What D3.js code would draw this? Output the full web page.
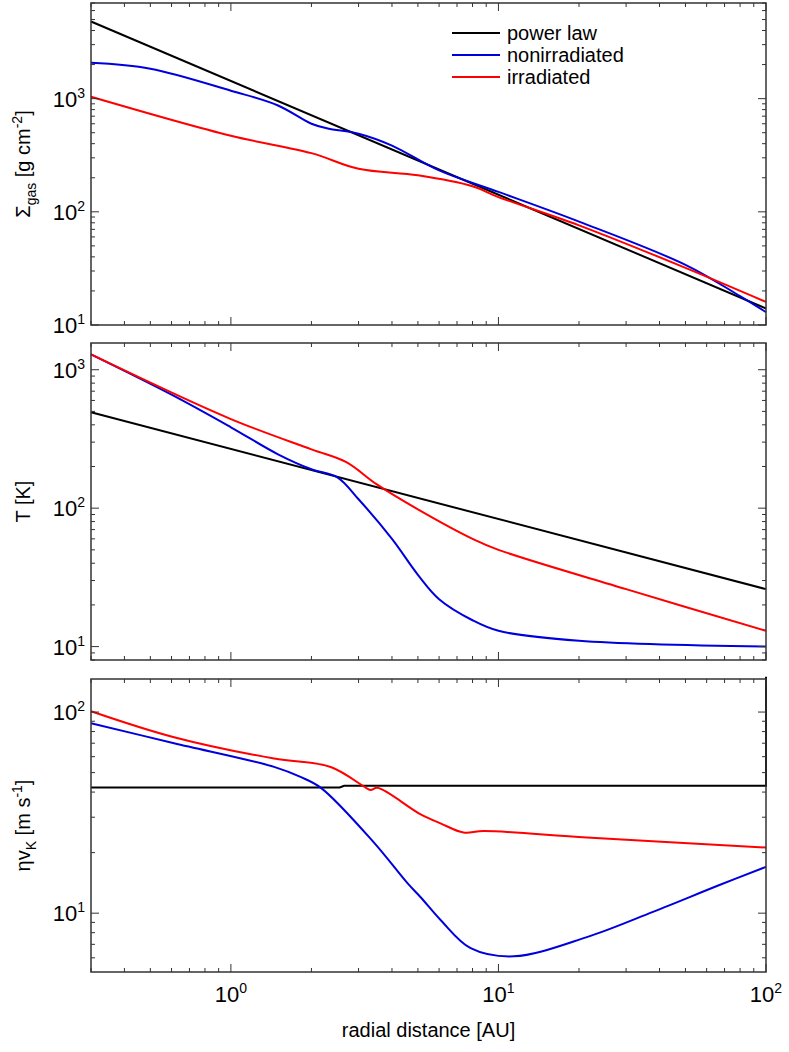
<!DOCTYPE html>
<html>
  <head>
    <meta charset="utf-8">
    <title>disk profiles</title>
    <script src="https://d3js.org/d3.v7.min.js"></script>
    <style>
      body { margin: 0; background: #fff; }
      text { font-family: "Liberation Sans", Arial, sans-serif; fill: #000; }
    </style>
  </head>
  <body>
    <svg id="chart" width="789" height="1052"></svg>
    <script>
      // data: [radius AU, value]
      seriesNames = ["power law", "nonirradiated", "irradiated"];
      seriesColours = ["#000000", "#0000dd", "#ff0000"];
      sigmaPower = [[0.3, 4800], [100, 14]];
      sigmaNonirr = [[0.3, 2075], [0.5, 1840], [1, 1176], [1.5, 870], [2, 600], [2.3, 545], [3, 490], [4, 385], [6, 232], [10, 150], [20, 82], [50, 34], [80, 18], [100, 13]];
      sigmaIrr = [[0.3, 1040], [1, 470], [2, 330], [3, 240], [5, 210], [8, 168], [10, 135], [20, 76], [50, 32], [100, 16]];
      tempPower = [[0.3, 493], [100, 26]];
      tempNonirr = [[0.3, 1290], [0.6, 660], [1, 384], [1.5, 245], [2, 191], [2.5, 167], [3, 116], [4, 60], [5, 33], [6, 22], [8, 15.5], [10, 13], [20, 11], [100, 10]];
      tempIrr = [[0.3, 1290], [1, 440], [2, 266], [2.7, 215], [3.5, 149], [5, 98], [8, 60], [10, 50], [30, 26], [100, 13]];
      etaPower = [[0.3, 42.2], [2.55, 42.2], [2.65, 43], [100, 43], [100, 150]];
      etaNonirr = [[0.3, 88], [0.613, 70], [1.45, 53.4], [1.82, 47.6], [2.17, 42], [3.42, 22.5], [4.57, 14.1], [5.12, 12], [6.1, 9.2], [7.87, 6.7], [11.4, 6.1], [21.4, 7.6], [37.8, 10.15], [67, 13.8], [100, 17]];
      etaIrr = [[0.3, 101], [0.613, 75], [1.45, 58.7], [2.36, 53.3], [3.2, 42], [3.33, 41], [3.53, 42], [5.12, 31], [6.1, 27.9], [7.4, 25.2], [8.8, 25.6], [21.4, 23.8], [100, 21.2]];
      xDomain = [0.3, 100];
      xTicks = [1, 10, 100];

      panels = [
        { top: 3, bottom: 325, domain: [10, 7000], ticks: [10, 100, 1000], label: "sigma", data: [sigmaPower, sigmaNonirr, sigmaIrr] },
        { top: 343, bottom: 660, domain: [8, 1560], ticks: [10, 100, 1000], label: "T", data: [tempPower, tempNonirr, tempIrr] },
        { top: 679, bottom: 972, domain: [5.1, 146], ticks: [10, 100], label: "eta", data: [etaPower, etaNonirr, etaIrr] }
      ];
      margin = { left: 91, right: 766 };

      svg = d3.select("#chart");
      x = d3.scaleLog().domain(xDomain).range([margin.left, margin.right]);

      function minorTicks(domain) {
        out = [];
        for (e = -1; e <= 4; e++) {
          for (m = 1; m < 10; m++) {
            v = m * Math.pow(10, e);
            if (v >= domain[0] && v <= domain[1]) out.push({ v: v, major: m == 1 });
          }
        }
        return out;
      }
      function powerLabel(sel, v) {
        e = Math.round(Math.log10(v));
        sel.append("tspan").text("10");
        sel.append("tspan").attr("dy", -9).attr("font-size", 14).text(e);
      }

      panels.forEach(function(p) {
        y = d3.scaleLog().domain(p.domain).range([p.bottom, p.top]);
        g = svg.append("g");
        // curves
        smooth = d3.line().x(function(d) { return x(d[0]); }).y(function(d) { return y(d[1]); })
          .curve(d3.curveCatmullRom.alpha(0.5));
        straight = d3.line().x(function(d) { return x(d[0]); }).y(function(d) { return y(d[1]); });
        p.data.forEach(function(s, i) {
          g.append("path").datum(s)
            .attr("d", i == 0 ? straight : smooth)
            .attr("fill", "none")
            .attr("stroke", seriesColours[i])
            .attr("stroke-width", 2);
        });
        // frame
        g.append("rect").attr("x", margin.left).attr("y", p.top)
          .attr("width", margin.right - margin.left).attr("height", p.bottom - p.top)
          .attr("fill", "none").attr("stroke", "#333").attr("stroke-width", 1.5);
        // ticks, inward on all sides
        minorTicks(xDomain).forEach(function(t) {
          len = t.major ? 8 : 4;
          g.append("line").attr("x1", x(t.v)).attr("x2", x(t.v)).attr("y1", p.bottom).attr("y2", p.bottom - len).attr("stroke", "#333");
          g.append("line").attr("x1", x(t.v)).attr("x2", x(t.v)).attr("y1", p.top).attr("y2", p.top + len).attr("stroke", "#333");
        });
        minorTicks(p.domain).forEach(function(t) {
          len = t.major ? 8 : 4;
          g.append("line").attr("x1", margin.left).attr("x2", margin.left + len).attr("y1", y(t.v)).attr("y2", y(t.v)).attr("stroke", "#333");
          g.append("line").attr("x1", margin.right).attr("x2", margin.right - len).attr("y1", y(t.v)).attr("y2", y(t.v)).attr("stroke", "#333");
        });
        p.ticks.forEach(function(v) {
          t = g.append("text").attr("x", margin.left - 6).attr("y", y(v) + 8)
            .attr("text-anchor", "end").attr("font-size", 22);
          powerLabel(t, v);
        });
        // y label
        mid = (p.top + p.bottom) / 2;
        lab = g.append("text").attr("transform", "translate(30," + mid + ") rotate(-90)")
          .attr("text-anchor", "middle").attr("font-size", 20);
        if (p.label == "sigma") {
          lab.append("tspan").text("Σ");
          lab.append("tspan").attr("dy", 6).attr("font-size", 14).text("gas");
          lab.append("tspan").attr("dy", -6).text(" [g cm");
          lab.append("tspan").attr("dy", -8).attr("font-size", 14).text("-2");
          lab.append("tspan").attr("dy", 8).text("]");
        } else if (p.label == "T") {
          lab.text("T [K]");
        } else {
          lab.append("tspan").text("ηv");
          lab.append("tspan").attr("dy", 6).attr("font-size", 14).text("K");
          lab.append("tspan").attr("dy", -6).text(" [m s");
          lab.append("tspan").attr("dy", -8).attr("font-size", 14).text("-1");
          lab.append("tspan").attr("dy", 8).text("]");
        }
      });

      // x tick labels and title
      xTicks.forEach(function(v) {
        t = svg.append("text").attr("x", x(v)).attr("y", 1002)
          .attr("text-anchor", "middle").attr("font-size", 22);
        powerLabel(t, v);
      });
      svg.append("text").attr("x", (margin.left + margin.right) / 2).attr("y", 1037)
        .attr("text-anchor", "middle").attr("font-size", 20).text("radial distance [AU]");

      // legend
      seriesNames.forEach(function(n, i) {
        ly = 33 + i * 22;
        svg.append("line").attr("x1", 452).attr("x2", 500).attr("y1", ly).attr("y2", ly)
          .attr("stroke", seriesColours[i]).attr("stroke-width", 2);
        svg.append("text").attr("x", 507).attr("y", ly + 7).attr("font-size", 20).text(n);
      });
    </script>
  </body>
</html>
